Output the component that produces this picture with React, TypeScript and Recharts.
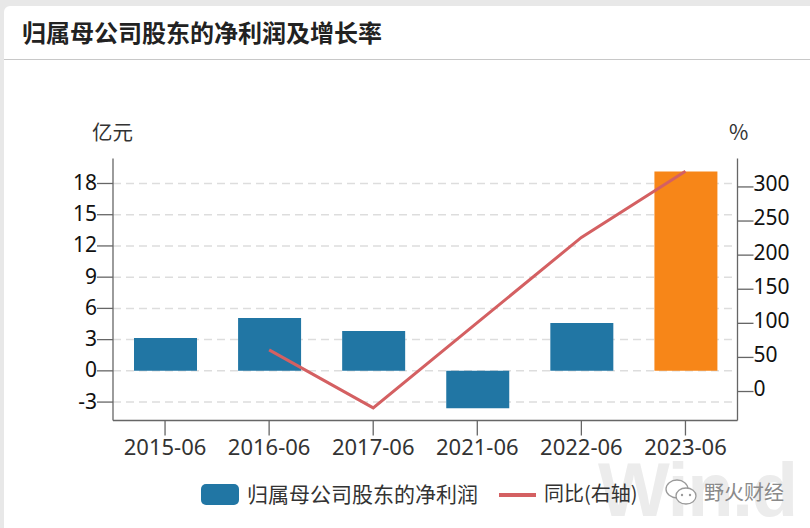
import { ComposedChart, Bar, Line, Cell, XAxis, YAxis, CartesianGrid, Legend } from "recharts";

const categories = ["2015-06", "2016-06", "2017-06", "2021-06", "2022-06", "2023-06"];
const profit = [3.16, 5.07, 3.83, -3.6, 4.6, 19.15];
const growth = [null, 61, -24, 101, 226, 323];
const leftTicks = [-3, 0, 3, 6, 9, 12, 15, 18];
const rightTicks = [0, 50, 100, 150, 200, 250, 300];

const BLUE = "#2176a4";
const ORANGE = "#f78618";
const RED = "#d46062";
const AXIS = "#666666";
const FONT = '"Noto Sans", "Noto Sans CJK SC", sans-serif';
const CJK = '"Noto Sans CJK SC", sans-serif';

const data = categories.map((name, i) => ({ name, profit: profit[i], growth: growth[i] }));

const LegendContent = () => (
  <div style={{ position: "relative", height: 30, fontFamily: CJK, fontSize: 21, color: "#333" }}>
    <div style={{ position: "absolute", left: 201, top: 4, width: 38, height: 21, borderRadius: 5, background: BLUE }} />
    <span style={{ position: "absolute", left: 247, top: -2, lineHeight: "30px", whiteSpace: "nowrap" }}>归属母公司股东的净利润</span>
    <div style={{ position: "absolute", left: 499, top: 13, width: 37, height: 4, background: RED }} />
    <span style={{ position: "absolute", left: 544, top: -2, lineHeight: "30px", whiteSpace: "nowrap", fontSize: 20 }}>同比(右轴)</span>
  </div>
);

export default function App() {
  return (
    <div style={{ position: "fixed", left: 0, top: 0, width: 810, height: 528, background: "#e8e8e8", overflow: "hidden", fontFamily: CJK }}>
      <div style={{ position: "absolute", left: 4, top: 6, width: 806, height: 522, background: "#fff", borderTopLeftRadius: 6 }} />
      <div style={{ position: "absolute", left: 4, top: 59, width: 806, height: 1, background: "#c8c8c8" }} />
      <div style={{ position: "absolute", left: 22, top: 16, fontSize: 24, lineHeight: "32px", fontWeight: 700, color: "#222", whiteSpace: "nowrap" }}>
        归属母公司股东的净利润及增长率
      </div>

      {/* watermark */}
      <div style={{ position: "absolute", left: 598, top: 462, fontFamily: "Liberation Sans", fontWeight: 700, fontSize: 76, letterSpacing: -1.5, lineHeight: "56px", color: "#ececec", whiteSpace: "nowrap" }}>
        Win.d
      </div>

      <div style={{ position: "absolute", left: 92, top: 116, fontSize: 20.5, lineHeight: "30px", color: "#333" }}>亿元</div>
      <div style={{ position: "absolute", left: 729, top: 116, fontSize: 21, lineHeight: "30px", color: "#333" }}>%</div>

      <div style={{ position: "absolute", left: 0, top: 0, fontFamily: FONT }}>
        <ComposedChart width={810} height={528} data={data} barSize={63} margin={{ top: 158.5, right: 12.5, bottom: 17.5, left: 53 }}>
          <CartesianGrid yAxisId="left" vertical={false} horizontalValues={leftTicks} stroke="#dddddd" strokeWidth={1.5} strokeDasharray="8 5" />
          <XAxis
            dataKey="name"
            interval={0}
            height={60}
            tickSize={15}
            tickMargin={4}
            tick={{ fontSize: 22, fill: "#333" }}
            stroke={AXIS}
            strokeWidth={1.3}
          />
          <YAxis
            yAxisId="left"
            width={60}
            domain={[-4.77, 20.4]}
            ticks={leftTicks}
            interval={0}
            allowDataOverflow
            tickSize={16}
            tickMargin={0}
            tick={{ fontSize: 21, fill: "#111", dy: -1 }}
            stroke={AXIS}
            strokeWidth={1.3}
          />
          <YAxis
            yAxisId="right"
            orientation="right"
            width={60}
            domain={[-42.5, 341.7]}
            ticks={rightTicks}
            interval={0}
            allowDataOverflow
            tickSize={16}
            tickMargin={0}
            tick={{ fontSize: 21, fill: "#111", dy: -3 }}
            stroke={AXIS}
            strokeWidth={1.3}
          />
          <Bar yAxisId="left" dataKey="profit" name="归属母公司股东的净利润" fill={BLUE} isAnimationActive={false}>
            {categories.map((c, i) => (
              <Cell key={c} fill={i === categories.length - 1 ? ORANGE : BLUE} />
            ))}
          </Bar>
          <Line yAxisId="right" dataKey="growth" name="同比(右轴)" type="linear" stroke={RED} strokeWidth={3} dot={false} activeDot={false} isAnimationActive={false} />
          <Legend content={<LegendContent />} wrapperStyle={{ position: "absolute", left: 0, top: 480, width: 810, height: 30, bottom: "auto" }} />
        </ComposedChart>
      </div>

      {/* wechat mark and account name */}
      <svg style={{ position: "absolute", left: 664, top: 478 }} width={36} height={30}>
        <ellipse cx={13} cy={11} rx={11} ry={9} fill="#fff" stroke="#9a9a9a" strokeWidth={1.3} />
        <ellipse cx={22} cy={18} rx={10} ry={8} fill="#fff" stroke="#9a9a9a" strokeWidth={1.3} />
        <circle cx={18} cy={17} r={1.2} fill="#9a9a9a" />
        <circle cx={26} cy={17} r={1.2} fill="#9a9a9a" />
      </svg>
      <div style={{ position: "absolute", left: 704, top: 477, fontSize: 20, lineHeight: "30px", color: "#8a8a8a", whiteSpace: "nowrap" }}>野火财经</div>
    </div>
  );
}
